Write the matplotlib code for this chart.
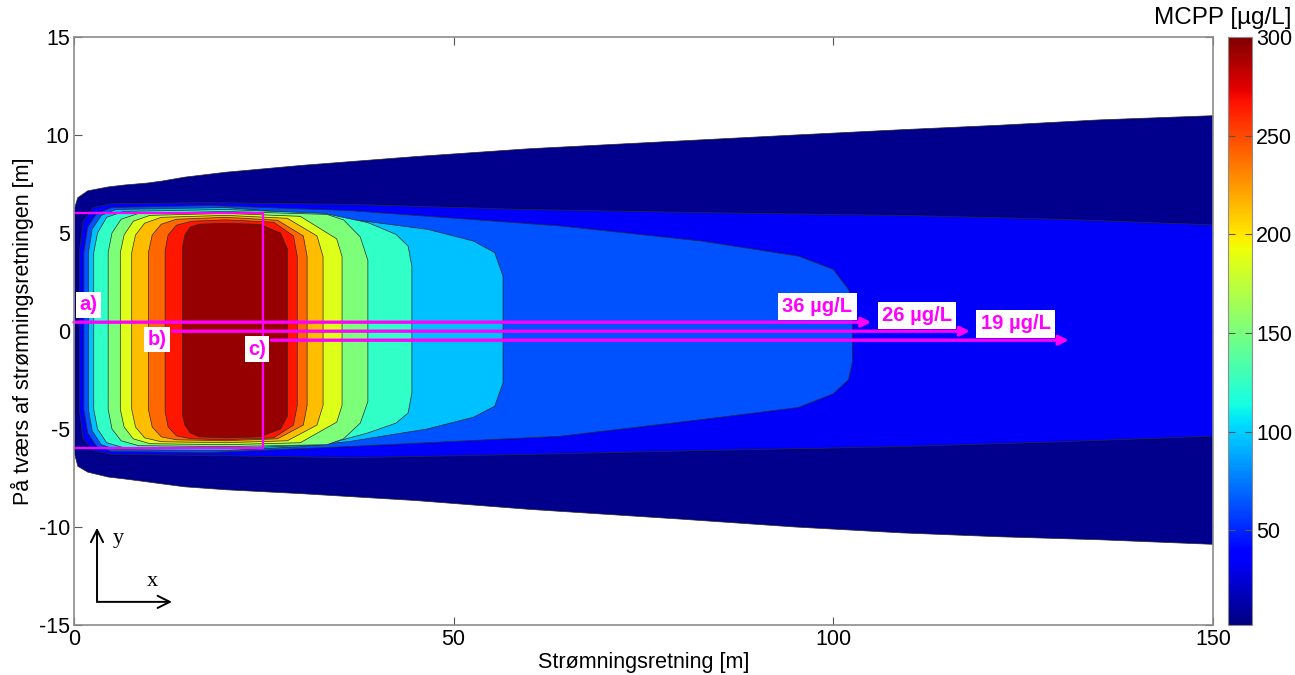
import matplotlib
matplotlib.use("Agg")
import matplotlib.pyplot as plt
from matplotlib.colors import Normalize
from matplotlib.cm import ScalarMappable

plt.rcParams["font.family"] = ["Liberation Sans", "DejaVu Sans"]
plt.rcParams["axes.unicode_minus"] = False

# colour value of each filled band (outermost first), µg/L
band_levels = [6, 34, 63, 96, 124, 151, 186, 213, 240, 266, 294]

# band outlines: x stations [m], upper and lower edge [m]
b1_x = [0.1, 0.5, 1.8, 4.5, 6.7, 9.7, 11.6, 14.6, 20, 30, 45, 60, 80, 95, 109, 122, 135, 151]
b1_top = [6.3, 6.8, 7.15, 7.35, 7.45, 7.55, 7.65, 7.85, 8.1, 8.45, 8.9, 9.3, 9.7, 10.0, 10.27, 10.5, 10.77, 11.0]
b1_bot = [-6.3, -6.9, -7.2, -7.45, -7.55, -7.7, -7.8, -7.95, -8.1, -8.3, -8.65, -9.1, -9.6, -10.0, -10.3, -10.5, -10.65, -10.9]

b2_x = [0.7, 1.2, 2.5, 5, 18, 36.4, 59.4, 82.6, 108.9, 130, 151]
b2_top = [4.0, 5.6, 6.3, 6.5, 6.55, 6.46, 6.2, 6.04, 5.9, 5.7, 5.4]
b2_bot = [-4.0, -5.5, -6.1, -6.3, -6.35, -6.47, -6.3, -6.1, -5.9, -5.65, -5.35]

b3_x = [1.3, 1.8, 3.0, 5.0, 18, 36.4, 64, 82.6, 95.4, 100, 102, 102.5]
b3_top = [4.0, 5.3, 6.0, 6.3, 6.4, 6.14, 5.36, 4.59, 3.82, 3.14, 2.12, 1.5]
b3_bot = [-4.0, -5.2, -5.9, -6.15, -6.2, -5.89, -5.37, -4.52, -3.9, -3.2, -2.48, -1.6]

b4_x = [1.9, 2.4, 3.6, 5.5, 20, 30, 36.4, 46.5, 52.6, 55.4, 56.5]
b4_top = [4.0, 5.2, 5.9, 6.2, 6.3, 6.0, 5.7, 5.19, 4.59, 4.0, 2.8]
b4_bot = [-4.0, -5.1, -5.8, -6.05, -6.1, -5.9, -5.63, -5.0, -4.4, -3.84, -2.65]

b5_x = [2.6, 3.1, 4.3, 6.5, 20, 33, 38.7, 42.4, 44.0, 44.5]
b5_top = [4.0, 5.0, 5.8, 6.1, 6.2, 6.0, 5.53, 4.93, 4.33, 3.3]
b5_bot = [-4.0, -5.0, -5.7, -5.95, -6.0, -5.8, -5.2, -4.7, -4.18, -3.16]

b6_x = [4.5, 5.0, 6.2, 8.5, 20, 33.3, 35.5, 37.7, 38.7]
b6_top = [4.0, 5.0, 5.7, 6.0, 6.1, 5.95, 5.67, 4.8, 3.6]
b6_bot = [-4.0, -5.0, -5.6, -5.85, -5.9, -5.8, -5.5, -4.7, -3.6]

b7_x = [6.1, 6.6, 7.8, 10, 20, 29.8, 34.6, 35.3]
b7_top = [4.0, 4.9, 5.6, 5.9, 6.0, 5.85, 4.7, 3.8]
b7_bot = [-4.0, -4.9, -5.5, -5.75, -5.8, -5.7, -4.65, -3.8]

b8_x = [7.6, 8.1, 9.3, 11.5, 20, 28.1, 32.0, 32.8]
b8_top = [4.0, 4.9, 5.5, 5.8, 5.9, 5.75, 4.85, 3.8]
b8_bot = [-4.0, -4.9, -5.45, -5.65, -5.7, -5.6, -4.8, -3.8]

b9_x = [9.8, 10.3, 11.5, 13.5, 20, 26.8, 30.2, 30.7]
b9_top = [4.0, 4.9, 5.45, 5.7, 5.8, 5.65, 4.85, 3.8]
b9_bot = [-4.0, -4.9, -5.4, -5.55, -5.6, -5.5, -4.8, -3.8]

b10_x = [12.0, 12.4, 13.5, 15.5, 20, 26.3, 28.9, 29.4]
b10_top = [4.1, 4.9, 5.4, 5.6, 5.67, 5.55, 4.85, 3.8]
b10_bot = [-4.1, -4.9, -5.35, -5.5, -5.55, -5.45, -4.8, -3.8]

b11_x = [14.3, 14.6, 15.3, 16.5, 20, 24.5, 27.2, 28.1]
b11_top = [4.3, 4.9, 5.3, 5.45, 5.5, 5.44, 5.0, 4.2]
b11_bot = [-4.3, -4.8, -5.2, -5.4, -5.45, -5.4, -5.0, -4.35]

bands = [
    (b1_x, b1_top, b1_bot), (b2_x, b2_top, b2_bot), (b3_x, b3_top, b3_bot),
    (b4_x, b4_top, b4_bot), (b5_x, b5_top, b5_bot), (b6_x, b6_top, b6_bot),
    (b7_x, b7_top, b7_bot), (b8_x, b8_top, b8_bot), (b9_x, b9_top, b9_bot),
    (b10_x, b10_top, b10_bot), (b11_x, b11_top, b11_bot),
]

# profile lines a), b), c): y position, start x, end x
line_names = ["a)", "b)", "c)"]
line_y = [0.45, -0.01, -0.47]
line_x0 = [0.0, 13.0, 26.0]
line_x1 = [105.0, 118.0, 131.0]
name_pos = [(1.9, 1.33), (10.9, -0.43), (24.1, -0.92)]
result_text = ["36 µg/L", "26 µg/L", "19 µg/L"]
result_pos = [(97.9, 1.26), (111.0, 0.8), (124.0, 0.36)]

# source area (x from, x to, y from, y to)
src_x = [0.0, 24.9]
src_y = [-5.95, 6.04]

cbar_ticks = [50, 100, 150, 200, 250, 300]
c_min, c_max = 2, 300
MAG = "#ff00ff"

W, H = 1295, 675
fig = plt.figure(figsize=(W / 100, H / 100), dpi=100)
ax = fig.add_axes([74 / W, 50 / H, 1139 / W, 588 / H])
cax = fig.add_axes([1228 / W, 50 / H, 24 / W, 588 / H])

cmap = plt.get_cmap("jet")
norm = Normalize(c_min, c_max)

for (xs, top, bot), lev in zip(bands, band_levels):
    px = list(xs) + list(xs)[::-1]
    py = list(top) + list(bot)[::-1]
    ax.fill(px, py, facecolor=cmap(norm(lev)), edgecolor="#2a2a2a", lw=0.5, zorder=2)

# source rectangle
ax.plot([src_x[0], src_x[1], src_x[1], src_x[0]],
        [src_y[1], src_y[1], src_y[0], src_y[0]], color=MAG, lw=1.6, zorder=4)

for name, y, x0, x1, npos, txt, tpos in zip(line_names, line_y, line_x0, line_x1,
                                            name_pos, result_text, result_pos):
    ax.annotate("", xy=(x1, y), xytext=(x0, y), zorder=5,
                arrowprops=dict(arrowstyle="-|>", color=MAG, lw=2.4,
                                mutation_scale=14, shrinkA=0, shrinkB=0))
    ax.text(*npos, name, color=MAG, fontsize=14.5, fontweight="bold",
            ha="center", va="center", zorder=6,
            bbox=dict(facecolor="white", edgecolor="none", pad=2.5))
    ax.text(*tpos, txt, color=MAG, fontsize=14.5, fontweight="bold",
            ha="center", va="center", zorder=6,
            bbox=dict(facecolor="white", edgecolor="none", pad=3))

# little x/y orientation sketch
ax.annotate("", xy=(3.03, -10.04), xytext=(3.03, -13.82),
            arrowprops=dict(arrowstyle="->", color="k", lw=1.4, mutation_scale=22,
                            shrinkA=0, shrinkB=0))
ax.annotate("", xy=(12.9, -13.82), xytext=(3.03, -13.82),
            arrowprops=dict(arrowstyle="->", color="k", lw=1.4, mutation_scale=22,
                            shrinkA=0, shrinkB=0))
ax.text(5.8, -10.6, "y", family="Liberation Serif", fontsize=16, ha="center", va="center")
ax.text(10.3, -12.8, "x", family="Liberation Serif", fontsize=16, ha="center", va="center")

ax.set_xlim(0, 150)
ax.set_ylim(-15, 15)
ax.set_xticks([0, 50, 100, 150])
ax.set_yticks([-15, -10, -5, 0, 5, 10, 15])
ax.tick_params(direction="in", length=6, color="#555555", labelsize=15.5,
               top=True, right=True, pad=3)
for sp in ax.spines.values():
    sp.set_color("#8c8c8c")
    sp.set_linewidth(1.2)
    sp.set_zorder(7)
ax.set_xlabel("Strømningsretning [m]", fontsize=15.5, labelpad=1)
ax.set_ylabel("På tværs af strømningsretningen [m]", fontsize=15.5, labelpad=3)

sm = ScalarMappable(norm=norm, cmap=cmap)
cb = fig.colorbar(sm, cax=cax)
cb.set_ticks(cbar_ticks)
cb.ax.tick_params(direction="in", length=5, color="#555555", labelsize=15.5,
                  left=True, right=True, pad=3)
cb.outline.set_edgecolor("#8c8c8c")
fig.text(1292 / W, 1 - 18 / H, "MCPP [µg/L]", fontsize=17.5, ha="right", va="center")

fig.savefig("out.png", dpi=100)
